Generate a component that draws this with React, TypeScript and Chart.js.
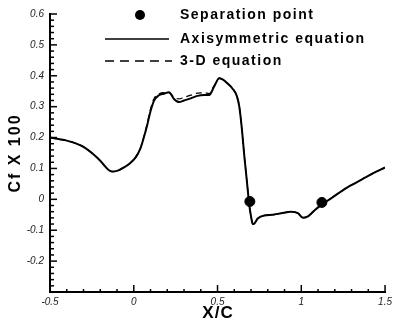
import React, { useEffect, useRef } from "react";
import { Chart, registerables } from "chart.js";

Chart.register(...registerables);

// X/C stations
const xValues = [
  -0.5, -0.45, -0.4, -0.35, -0.3, -0.25, -0.2, -0.17, -0.15, -0.13, -0.1, -0.06, -0.02,
  0.01, 0.04, 0.06, 0.08, 0.1, 0.12, 0.15, 0.18, 0.21, 0.24, 0.27, 0.3, 0.34, 0.38,
  0.42, 0.45, 0.48, 0.51, 0.53, 0.56, 0.59, 0.615, 0.63, 0.645, 0.66, 0.675, 0.69,
  0.7, 0.71, 0.72, 0.74, 0.78, 0.83, 0.88, 0.94, 0.98, 1.01, 1.04, 1.08, 1.12, 1.18,
  1.25, 1.32, 1.38, 1.43, 1.5,
];
// Cf x 100, axisymmetric equation
const axisymmetricValues = [
  0.2, 0.195, 0.19, 0.182, 0.17, 0.15, 0.125, 0.106, 0.095, 0.09, 0.092, 0.103, 0.118,
  0.135, 0.165, 0.2, 0.24, 0.285, 0.318, 0.337, 0.342, 0.347, 0.325, 0.315, 0.32, 0.327,
  0.335, 0.338, 0.338, 0.365, 0.392, 0.388, 0.375, 0.358, 0.335, 0.3, 0.23, 0.14, 0.06,
  -0.02, -0.055, -0.08, -0.078, -0.062, -0.052, -0.05, -0.045, -0.04, -0.045, -0.06,
  -0.055, -0.035, -0.018, 0.004, 0.03, 0.052, 0.07, 0.085, 0.103,
];
// Cf x 100, 3-D equation
const threeDValues = [
  0.2, 0.195, 0.19, 0.182, 0.17, 0.15, 0.125, 0.106, 0.095, 0.09, 0.092, 0.103, 0.118,
  0.135, 0.166, 0.202, 0.245, 0.292, 0.325, 0.341, 0.345, 0.345, 0.331, 0.325, 0.33,
  0.337, 0.344, 0.345, 0.342, 0.368, 0.392, 0.388, 0.375, 0.358, 0.335, 0.3, 0.23, 0.14,
  0.06, -0.02, -0.055, -0.078, -0.077, -0.062, -0.052, -0.05, -0.045, -0.04, -0.045,
  -0.059, -0.055, -0.035, -0.018, 0.004, 0.03, 0.052, 0.07, 0.085, 0.103,
];
// separation points
const separationX = [0.693, 1.123];
const separationY = [-0.007, -0.01];

const xTickValues = [-0.5, 0, 0.5, 1, 1.5];
const yTickValues = [-0.3, -0.2, -0.1, 0, 0.1, 0.2, 0.3, 0.4, 0.5, 0.6];

const legendLabels = ["Separation point", "Axisymmetric equation", "3-D equation"];
const xTitle = "X/C";
const yTitle = "Cf X 100";

const FONT = "'Liberation Sans', Arial, sans-serif";

const decorPlugin = {
  id: "decor",
  afterDraw(chart: any) {
    const ctx = chart.ctx as CanvasRenderingContext2D;
    const xs = chart.scales.x;
    const ys = chart.scales.y;
    const area = chart.chartArea;
    ctx.save();
    ctx.strokeStyle = "#000";
    ctx.lineWidth = 1.5;
    // y ticks (inward)
    for (let i = 0; i <= 45; i++) {
      const v = -0.3 + i * 0.02;
      const py = ys.getPixelForValue(v);
      const len = i % 5 === 0 ? 7 : 4;
      ctx.beginPath();
      ctx.moveTo(area.left, py);
      ctx.lineTo(area.left + len, py);
      ctx.stroke();
    }
    // x ticks (inward)
    for (let i = 0; i <= 20; i++) {
      const v = -0.5 + i * 0.1;
      const px = xs.getPixelForValue(v);
      const len = i % 5 === 0 ? 7 : 3;
      ctx.beginPath();
      ctx.moveTo(px, area.bottom);
      ctx.lineTo(px, area.bottom - len);
      ctx.stroke();
    }
    // titles
    ctx.fillStyle = "#000";
    ctx.font = `bold 17px ${FONT}`;
    (ctx as any).letterSpacing = "1px";
    ctx.textAlign = "center";
    ctx.textBaseline = "middle";
    ctx.fillText(xTitle, 218, 313);
    ctx.save();
    ctx.translate(16, 153);
    ctx.rotate(-Math.PI / 2);
    ctx.font = `bold 16px ${FONT}`;
    (ctx as any).letterSpacing = "2px";
    ctx.fillText(yTitle, 0, 0);
    ctx.restore();

    // legend
    ctx.font = `bold 14px ${FONT}`;
    (ctx as any).letterSpacing = "1.5px";
    ctx.textAlign = "left";
    ctx.textBaseline = "middle";
    const rows = [15, 39, 61];
    ctx.beginPath();
    ctx.arc(140, rows[0], 5, 0, Math.PI * 2);
    ctx.fill();
    ctx.lineWidth = 1.5;
    ctx.beginPath();
    ctx.moveTo(105, rows[1]);
    ctx.lineTo(169, rows[1]);
    ctx.stroke();
    ctx.setLineDash([9, 6]);
    ctx.beginPath();
    ctx.moveTo(105, rows[2]);
    ctx.lineTo(172, rows[2]);
    ctx.stroke();
    ctx.setLineDash([]);
    legendLabels.forEach((t, i) => ctx.fillText(t, 180, rows[i]));
    ctx.restore();
  },
};

export default function App() {
  const ref = useRef<HTMLCanvasElement | null>(null);
  useEffect(() => {
    if (!ref.current) return;
    const solid = xValues.map((x, i) => ({ x, y: axisymmetricValues[i] }));
    const dashed = xValues.map((x, i) => ({ x, y: threeDValues[i] }));
    const seps = separationX.map((x, i) => ({ x, y: separationY[i] }));
    const chart = new Chart(ref.current, {
      type: "scatter",
      data: {
        datasets: [
          {
            label: legendLabels[2],
            data: dashed,
            showLine: true,
            borderColor: "#000",
            borderWidth: 1.3,
            borderDash: [6, 4],
            pointRadius: 0,
            cubicInterpolationMode: "monotone",
          },
          {
            label: legendLabels[1],
            data: solid,
            showLine: true,
            borderColor: "#000",
            borderWidth: 2,
            pointRadius: 0,
            cubicInterpolationMode: "monotone",
          },
          {
            label: legendLabels[0],
            data: seps,
            showLine: false,
            pointRadius: 5,
            pointBackgroundColor: "#000",
            pointBorderColor: "#000",
          },
        ],
      },
      options: {
        responsive: false,
        animation: false,
        layout: { padding: { top: 14, right: 8, left: 0, bottom: 0 } },
        plugins: { legend: { display: false }, tooltip: { enabled: false } },
        scales: {
          x: {
            type: "linear",
            min: -0.5,
            max: 1.5,
            afterFit: (s: any) => {
              s.height = 32;
            },
            afterBuildTicks: (s: any) => {
              s.ticks = xTickValues.map((v) => ({ value: v }));
            },
            grid: { display: false, drawTicks: false },
            border: { display: true, color: "#000", width: 2 },
            ticks: {
              padding: 4,
              color: "#222",
              font: { family: FONT, size: 10, style: "italic" },
              callback: (v: any) => String(Math.round(Number(v) * 10) / 10),
            },
          },
          y: {
            type: "linear",
            min: -0.3,
            max: 0.6,
            afterFit: (s: any) => {
              s.width = 50;
            },
            afterBuildTicks: (s: any) => {
              s.ticks = yTickValues.map((v) => ({ value: v }));
            },
            grid: { display: false, drawTicks: false },
            border: { display: true, color: "#000", width: 2 },
            ticks: {
              padding: 6,
              color: "#222",
              font: { family: FONT, size: 10, style: "italic" },
              callback: (v: any) => {
                const r = Math.round(Number(v) * 10) / 10;
                return r === -0.3 ? "" : String(r);
              },
            },
          },
        },
      },
      plugins: [decorPlugin],
    } as any);
    return () => chart.destroy();
  }, []);
  return (
    <div style={{ position: "fixed", left: 0, top: 0, width: 396, height: 324, background: "#fff" }}>
      <canvas ref={ref} width={396} height={324} />
    </div>
  );
}
